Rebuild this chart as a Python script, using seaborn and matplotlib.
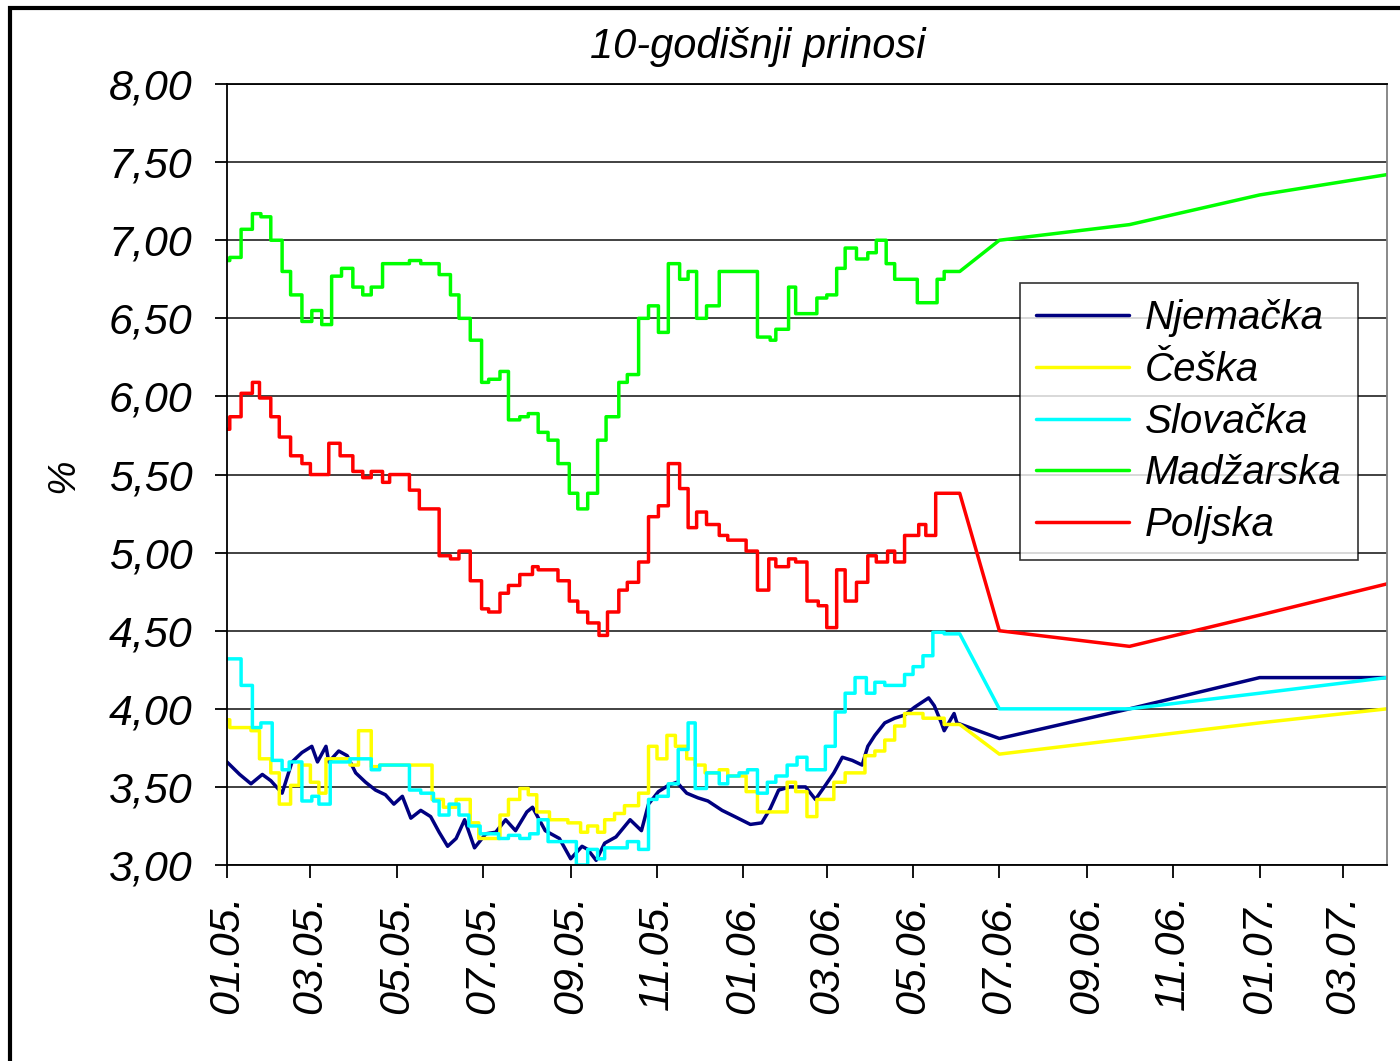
import pandas as pd
import matplotlib.pyplot as plt
import matplotlib.dates as mdates
import seaborn as sns
from matplotlib.patches import Rectangle

# daily yields 01.2005 - 06.2006 (values read at the change points)
de_dates = ["2005-01-01", "2005-01-10", "2005-01-18", "2005-01-26", "2005-02-01", "2005-02-09", "2005-02-16",
            "2005-02-23", "2005-03-02", "2005-03-06", "2005-03-12", "2005-03-14", "2005-03-21", "2005-03-27",
            "2005-04-02", "2005-04-09", "2005-04-16", "2005-04-23", "2005-04-29", "2005-05-05", "2005-05-11",
            "2005-05-18", "2005-05-25", "2005-05-31", "2005-06-06", "2005-06-12", "2005-06-18", "2005-06-25",
            "2005-07-03", "2005-07-10", "2005-07-17", "2005-07-24", "2005-08-01", "2005-08-05", "2005-08-14",
            "2005-08-24", "2005-09-01", "2005-09-09", "2005-09-13", "2005-09-19", "2005-09-25", "2005-10-03",
            "2005-10-13", "2005-10-21", "2005-10-26", "2005-11-02", "2005-11-09", "2005-11-15", "2005-11-22",
            "2005-11-30", "2005-12-07", "2005-12-17", "2005-12-26", "2006-01-06", "2006-01-14", "2006-01-20",
            "2006-01-26", "2006-02-03", "2006-02-14", "2006-02-21", "2006-02-28", "2006-03-06", "2006-03-12",
            "2006-03-19", "2006-03-26", "2006-03-30", "2006-04-04", "2006-04-11", "2006-04-18", "2006-04-25",
            "2006-05-02", "2006-05-12", "2006-05-16", "2006-05-21", "2006-05-23", "2006-05-30", "2006-06-01"]
de_vals = [3.66, 3.58, 3.52, 3.58, 3.54, 3.46, 3.66, 3.72, 3.76, 3.66, 3.76, 3.66, 3.73, 3.70, 3.59, 3.53,
           3.48, 3.45, 3.39, 3.44, 3.30, 3.35, 3.31, 3.21, 3.12, 3.17, 3.29, 3.11, 3.20, 3.21, 3.29, 3.22,
           3.34, 3.37, 3.22, 3.17, 3.04, 3.12, 3.10, 3.03, 3.14, 3.18, 3.29, 3.22, 3.39, 3.47, 3.51, 3.53,
           3.46, 3.43, 3.41, 3.35, 3.31, 3.26, 3.27, 3.36, 3.48, 3.50, 3.50, 3.42, 3.51, 3.59, 3.69, 3.67,
           3.64, 3.76, 3.83, 3.91, 3.94, 3.96, 4.01, 4.07, 4.02, 3.91, 3.86, 3.97, 3.91]

cz_dates = ["2005-01-01", "2005-01-03", "2005-01-18", "2005-01-24", "2005-02-01", "2005-02-07", "2005-02-15",
            "2005-02-21", "2005-03-01", "2005-03-07", "2005-03-12", "2005-03-29", "2005-04-04", "2005-04-13",
            "2005-04-19", "2005-05-26", "2005-06-03", "2005-06-12", "2005-06-22", "2005-06-28", "2005-07-13",
            "2005-07-19", "2005-07-27", "2005-08-02", "2005-08-08", "2005-08-17", "2005-08-30", "2005-09-08",
            "2005-09-13", "2005-09-20", "2005-09-25", "2005-10-02", "2005-10-09", "2005-10-19", "2005-10-26",
            "2005-11-01", "2005-11-08", "2005-11-14", "2005-11-22", "2005-11-28", "2005-12-05", "2005-12-15",
            "2005-12-21", "2006-01-03", "2006-01-11", "2006-02-01", "2006-02-07", "2006-02-15", "2006-02-22",
            "2006-03-06", "2006-03-14", "2006-03-28", "2006-04-04", "2006-04-11", "2006-04-18", "2006-04-25",
            "2006-05-08", "2006-05-23"]
cz_vals = [3.93, 3.88, 3.86, 3.68, 3.59, 3.39, 3.51, 3.64, 3.53, 3.46, 3.68, 3.64, 3.86, 3.63, 3.64, 3.42,
           3.37, 3.42, 3.27, 3.17, 3.32, 3.42, 3.49, 3.45, 3.34, 3.29, 3.27, 3.21, 3.25, 3.21, 3.29, 3.33,
           3.38, 3.46, 3.76, 3.68, 3.83, 3.76, 3.68, 3.64, 3.59, 3.61, 3.57, 3.47, 3.34, 3.53, 3.47, 3.31,
           3.42, 3.53, 3.59, 3.70, 3.73, 3.80, 3.89, 3.97, 3.94, 3.90]

sk_dates = ["2005-01-01", "2005-01-11", "2005-01-19", "2005-01-25", "2005-02-02", "2005-02-09", "2005-02-14",
            "2005-02-23", "2005-03-02", "2005-03-07", "2005-03-15", "2005-03-29", "2005-04-13", "2005-04-19",
            "2005-05-10", "2005-05-18", "2005-05-27", "2005-05-31", "2005-06-07", "2005-06-14", "2005-06-21",
            "2005-06-29", "2005-07-12", "2005-07-19", "2005-07-27", "2005-08-03", "2005-08-09", "2005-08-16",
            "2005-09-05", "2005-09-13", "2005-09-20", "2005-09-25", "2005-10-11", "2005-10-19", "2005-10-26",
            "2005-11-01", "2005-11-09", "2005-11-16", "2005-11-23", "2005-11-28", "2005-12-06", "2005-12-15",
            "2005-12-21", "2005-12-29", "2006-01-04", "2006-01-11", "2006-01-18", "2006-01-24", "2006-02-01",
            "2006-02-08", "2006-02-15", "2006-02-28", "2006-03-07", "2006-03-14", "2006-03-21", "2006-03-29",
            "2006-04-04", "2006-04-11", "2006-04-25", "2006-05-01", "2006-05-08", "2006-05-15", "2006-05-23"]
sk_vals = [4.32, 4.15, 3.88, 3.91, 3.67, 3.61, 3.66, 3.41, 3.44, 3.39, 3.66, 3.68, 3.61, 3.64, 3.48, 3.46,
           3.41, 3.32, 3.39, 3.32, 3.25, 3.20, 3.17, 3.19, 3.17, 3.20, 3.29, 3.15, 3.00, 3.10, 3.04, 3.11,
           3.15, 3.10, 3.42, 3.44, 3.52, 3.74, 3.91, 3.49, 3.59, 3.52, 3.57, 3.59, 3.61, 3.46, 3.53, 3.57,
           3.64, 3.69, 3.61, 3.76, 3.98, 4.10, 4.20, 4.10, 4.17, 4.15, 4.22, 4.27, 4.34, 4.49, 4.48]

hu_dates = ["2005-01-01", "2005-01-03", "2005-01-11", "2005-01-19", "2005-01-25", "2005-02-01", "2005-02-09",
            "2005-02-15", "2005-02-23", "2005-03-02", "2005-03-09", "2005-03-16", "2005-03-23", "2005-03-31",
            "2005-04-07", "2005-04-13", "2005-04-21", "2005-05-10", "2005-05-18", "2005-05-31", "2005-06-08",
            "2005-06-14", "2005-06-22", "2005-06-30", "2005-07-05", "2005-07-13", "2005-07-19", "2005-07-27",
            "2005-08-02", "2005-08-09", "2005-08-16", "2005-08-23", "2005-08-31", "2005-09-06", "2005-09-13",
            "2005-09-20", "2005-09-26", "2005-10-05", "2005-10-11", "2005-10-19", "2005-10-26", "2005-11-02",
            "2005-11-09", "2005-11-17", "2005-11-23", "2005-11-29", "2005-12-06", "2005-12-15", "2006-01-11",
            "2006-01-20", "2006-01-24", "2006-02-02", "2006-02-07", "2006-02-22", "2006-03-01", "2006-03-08",
            "2006-03-14", "2006-03-22", "2006-03-30", "2006-04-05", "2006-04-12", "2006-04-18", "2006-05-04",
            "2006-05-18", "2006-05-23"]
hu_vals = [6.87, 6.89, 7.07, 7.17, 7.15, 7.00, 6.80, 6.65, 6.48, 6.55, 6.46, 6.77, 6.82, 6.70, 6.65, 6.70,
           6.85, 6.87, 6.85, 6.78, 6.65, 6.50, 6.36, 6.09, 6.11, 6.16, 5.85, 5.87, 5.89, 5.77, 5.72, 5.57,
           5.38, 5.28, 5.38, 5.72, 5.87, 6.09, 6.14, 6.50, 6.58, 6.41, 6.85, 6.75, 6.80, 6.50, 6.58, 6.80,
           6.38, 6.36, 6.43, 6.70, 6.53, 6.63, 6.65, 6.82, 6.95, 6.88, 6.92, 7.00, 6.85, 6.75, 6.60, 6.75,
           6.80]

pl_dates = ["2005-01-01", "2005-01-03", "2005-01-11", "2005-01-19", "2005-01-24", "2005-02-01", "2005-02-07",
            "2005-02-15", "2005-02-23", "2005-03-01", "2005-03-14", "2005-03-22", "2005-03-31", "2005-04-07",
            "2005-04-13", "2005-04-21", "2005-04-26", "2005-05-10", "2005-05-17", "2005-05-31", "2005-06-08",
            "2005-06-14", "2005-06-22", "2005-06-30", "2005-07-05", "2005-07-13", "2005-07-19", "2005-07-27",
            "2005-08-05", "2005-08-09", "2005-08-23", "2005-08-31", "2005-09-06", "2005-09-13", "2005-09-21",
            "2005-09-27", "2005-10-05", "2005-10-11", "2005-10-19", "2005-10-26", "2005-11-02", "2005-11-09",
            "2005-11-17", "2005-11-23", "2005-11-29", "2005-12-06", "2005-12-15", "2005-12-21", "2006-01-03",
            "2006-01-11", "2006-01-19", "2006-01-24", "2006-02-02", "2006-02-07", "2006-02-15", "2006-02-23",
            "2006-03-01", "2006-03-08", "2006-03-14", "2006-03-22", "2006-03-30", "2006-04-05", "2006-04-13",
            "2006-04-18", "2006-04-25", "2006-05-05", "2006-05-10", "2006-05-17"]
pl_vals = [5.79, 5.87, 6.02, 6.09, 5.99, 5.87, 5.74, 5.62, 5.57, 5.50, 5.70, 5.62, 5.52, 5.48, 5.52, 5.45,
           5.50, 5.40, 5.28, 4.98, 4.96, 5.01, 4.82, 4.64, 4.62, 4.74, 4.79, 4.86, 4.91, 4.89, 4.82, 4.69,
           4.62, 4.55, 4.47, 4.62, 4.76, 4.81, 4.94, 5.23, 5.30, 5.57, 5.41, 5.16, 5.26, 5.18, 5.11, 5.08,
           5.01, 4.76, 4.96, 4.91, 4.96, 4.94, 4.69, 4.66, 4.52, 4.89, 4.69, 4.81, 4.98, 4.94, 5.01, 4.94,
           5.11, 5.18, 5.11, 5.38]

last_day = "2006-06-03"

# quarterly points after the daily data
fc_dates = ["2006-07-01", "2006-10-01", "2007-01-01", "2007-04-01"]
de_fc = [3.81, 4.00, 4.20, 4.20]
cz_fc = [3.71, 3.81, 3.91, 4.00]
sk_fc = [4.00, 4.00, 4.10, 4.20]
hu_fc = [7.00, 7.10, 7.29, 7.42]
pl_fc = [4.50, 4.40, 4.60, 4.80]

countries = ["Njemačka", "Češka", "Slovačka", "Madžarska", "Poljska"]
colors = ["#000080", "#FFFF00", "#00FFFF", "#00FF00", "#FF0000"]


def build(name, dates, vals, fc, step=True):
    xs, ys = [], []
    for i, (d, v) in enumerate(zip(dates, vals)):
        if step and i > 0:
            xs.append(d)
            ys.append(vals[i - 1])
        xs.append(d)
        ys.append(v)
    if step:
        xs.append(last_day)
        ys.append(vals[-1])
    xs += fc_dates
    ys += fc
    return pd.DataFrame({"date": pd.to_datetime(xs), "value": ys, "country": name})


df = pd.concat([
    build("Njemačka", de_dates, de_vals, de_fc, step=False),
    build("Češka", cz_dates, cz_vals, cz_fc),
    build("Slovačka", sk_dates, sk_vals, sk_fc),
    build("Madžarska", hu_dates, hu_vals, hu_fc),
    build("Poljska", pl_dates, pl_vals, pl_fc),
], ignore_index=True)

sns.set_style("white")
plt.rcParams['font.family'] = ['Liberation Sans', 'DejaVu Sans']
plt.rcParams['font.style'] = 'italic'
plt.rcParams['text.color'] = 'black'
plt.rcParams['xtick.color'] = 'black'
plt.rcParams['ytick.color'] = 'black'

fig = plt.figure(figsize=(14, 10.61), dpi=100)
ax = fig.add_axes([0.1621, 0.1847, 0.8286, 0.7361])

sns.lineplot(data=df, x="date", y="value", hue="country", hue_order=countries,
             palette=colors, estimator=None, sort=False, linewidth=2.5, ax=ax)

ax.set_xlim(pd.Timestamp("2005-01-01"), pd.Timestamp("2007-04-01"))
ax.set_ylim(3, 8)
yt = [3 + 0.5 * i for i in range(11)]
ax.set_yticks(yt)
ax.set_yticklabels([f"{v:.2f}".replace(".", ",") for v in yt], fontsize=31)
ax.xaxis.set_major_locator(mdates.MonthLocator(bymonth=[1, 3, 5, 7, 9, 11]))
ax.xaxis.set_major_formatter(mdates.DateFormatter("%m.%y."))
plt.setp(ax.get_xticklabels(), rotation=90, fontsize=31)
ax.tick_params(axis="y", direction="out", length=9, width=1.3, color="black", pad=16, left=True)
ax.tick_params(axis="x", direction="out", length=9, width=1.3, color="black", pad=12, bottom=True)
ax.grid(axis="y", color="#333333", linewidth=1.3)
ax.grid(axis="x", visible=False)
ax.set_xlabel("")
ax.set_ylabel("")
for s in ["left", "bottom", "top"]:
    ax.spines[s].set_color("black")
    ax.spines[s].set_linewidth(1.3)
ax.spines["right"].set_color("#808080")
ax.spines["right"].set_linewidth(1.3)

leg = ax.legend(loc="upper left", bbox_to_anchor=(0.6836, 0.745), borderaxespad=0,
                fontsize=29, frameon=True, fancybox=False, edgecolor="black",
                handlelength=2.3, handletextpad=0.4, labelspacing=0.34, borderpad=0.4)
leg.get_frame().set_linewidth(1.2)
for line in leg.get_lines():
    line.set_linewidth(2.5)

fig.text(0.541, 0.9557, "10-godišnji prinosi", ha="center", va="center", fontsize=30)
fig.text(0.045, 0.552, "%", ha="center", va="center", rotation=90, fontsize=28)

fig.patches.append(Rectangle((0.007, -0.05), 1.1, 0.9925 + 0.05, transform=fig.transFigure,
                             fill=False, edgecolor="black", linewidth=3))

plt.savefig("out.png", dpi=100)
